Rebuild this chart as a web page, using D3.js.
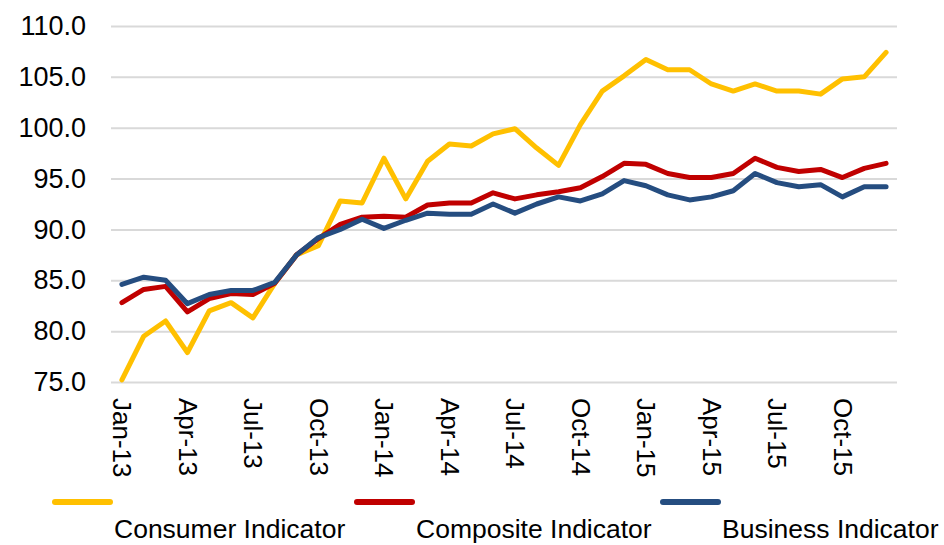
<!DOCTYPE html>
<html>
<head>
<meta charset="utf-8">
<script src="https://cdn.jsdelivr.net/npm/d3@7/dist/d3.min.js"></script>
<style>
  body { margin: 0; background: #fff; }
  svg { display: block; font-family: "Liberation Sans", Arial, sans-serif; }
</style>
</head>
<body>
<svg></svg>
<script>
// months Jan-13 .. Dec-15
var monthNames = ["Jan","Feb","Mar","Apr","May","Jun","Jul","Aug","Sep","Oct","Nov","Dec"]
var years = ["13","14","15"]
var months = []
years.forEach(function(y){
    monthNames.forEach(function(m){ months.push(m + "-" + y) })
})

var consumer = [75.2, 79.5, 81.0, 77.9, 82.0, 82.8, 81.3, 84.7, 87.5, 88.4, 92.8, 92.6,
                97.0, 93.0, 96.7, 98.4, 98.2, 99.4, 99.9, 98.0, 96.3, 100.3, 103.6, 105.1,
                106.7, 105.7, 105.7, 104.3, 103.6, 104.3, 103.6, 103.6, 103.3, 104.8, 105.0, 107.4]
var composite = [82.8, 84.1, 84.4, 81.9, 83.2, 83.7, 83.6, 84.7, 87.5, 89.1, 90.5, 91.2,
                 91.3, 91.2, 92.4, 92.6, 92.6, 93.6, 93.0, 93.4, 93.7, 94.1, 95.2, 96.5,
                 96.4, 95.5, 95.1, 95.1, 95.5, 97.0, 96.1, 95.7, 95.9, 95.1, 96.0, 96.5]
var business = [84.6, 85.3, 85.0, 82.7, 83.6, 84.0, 84.0, 84.8, 87.5, 89.2, 90.0, 91.0,
                90.1, 90.9, 91.6, 91.5, 91.5, 92.5, 91.6, 92.5, 93.2, 92.8, 93.5, 94.8,
                94.3, 93.4, 92.9, 93.2, 93.8, 95.5, 94.6, 94.2, 94.4, 93.2, 94.2, 94.2]

var yTicks = [75, 80, 85, 90, 95, 100, 105, 110]
var xTickLabels = months.filter(function(d, i){ return i % 3 == 0 })

var series = [
    {name: "Consumer Indicator", values: consumer, color: "#FFC000"},
    {name: "Composite Indicator", values: composite, color: "#C00000"},
    {name: "Business Indicator", values: business, color: "#254D80"}
]

var width = 944
var height = 545
var plotLeft = 111, plotRight = 897, plotTop = 26, plotBottom = 382

var svg = d3.select("svg")
    .attr("width", width)
    .attr("height", height)

var xScale = d3.scalePoint()
    .domain(months)
    .range([plotLeft, plotRight])
    .padding(0.5)

var yScale = d3.scaleLinear()
    .domain([75, 110])
    .range([plotBottom, plotTop])

// gridlines + y labels
var yAxis = d3.axisLeft(yScale)
    .tickValues(yTicks)
    .tickSize(-(plotRight - plotLeft))
    .tickPadding(25)
    .tickFormat(d3.format(".1f"))

svg.append("g")
    .attr("transform", "translate(" + plotLeft + ",0)")
    .call(yAxis)
    .call(function(g){
        g.select(".domain").remove()
        g.selectAll(".tick line").attr("stroke", "#D9D9D9").attr("stroke-width", 2)
        g.selectAll(".tick text")
            .attr("fill", "#000")
            .style("font-size", "27px")
    })

// x labels
var xAxis = d3.axisBottom(xScale)
    .tickValues(xTickLabels)
    .tickSize(0)

svg.append("g")
    .attr("transform", "translate(0," + plotBottom + ")")
    .call(xAxis)
    .call(function(g){
        g.select(".domain").remove()
        g.selectAll(".tick text")
            .attr("fill", "#000")
            .style("font-size", "26px")
            .attr("text-anchor", "start")
            .attr("transform", "rotate(90)")
            .attr("x", 16)
            .attr("y", 0)
            .attr("dy", "0.35em")
    })

var line = d3.line()
    .x(function(d, i){ return xScale(months[i]) })
    .y(function(d){ return yScale(d) })

svg.selectAll(".series")
    .data(series)
    .enter()
    .append("path")
    .attr("class", "series")
    .attr("fill", "none")
    .attr("stroke", function(d){ return d.color })
    .attr("stroke-width", 5)
    .attr("stroke-linejoin", "round")
    .attr("stroke-linecap", "round")
    .attr("d", function(d){ return line(d.values) })

// legend
var legendX = [55, 357, 663]
var legend = svg.selectAll(".legend")
    .data(series)
    .enter()
    .append("g")
    .attr("class", "legend")
    .attr("transform", function(d, i){ return "translate(" + legendX[i] + ",502)" })

legend.append("line")
    .attr("x1", 0).attr("x2", 55)
    .attr("y1", 0).attr("y2", 0)
    .attr("stroke", function(d){ return d.color })
    .attr("stroke-width", 6)
    .attr("stroke-linecap", "round")

legend.append("text")
    .attr("x", 59)
    .attr("y", 36)
    .style("font-size", "26.5px")
    .text(function(d){ return d.name })
</script>
</body>
</html>
